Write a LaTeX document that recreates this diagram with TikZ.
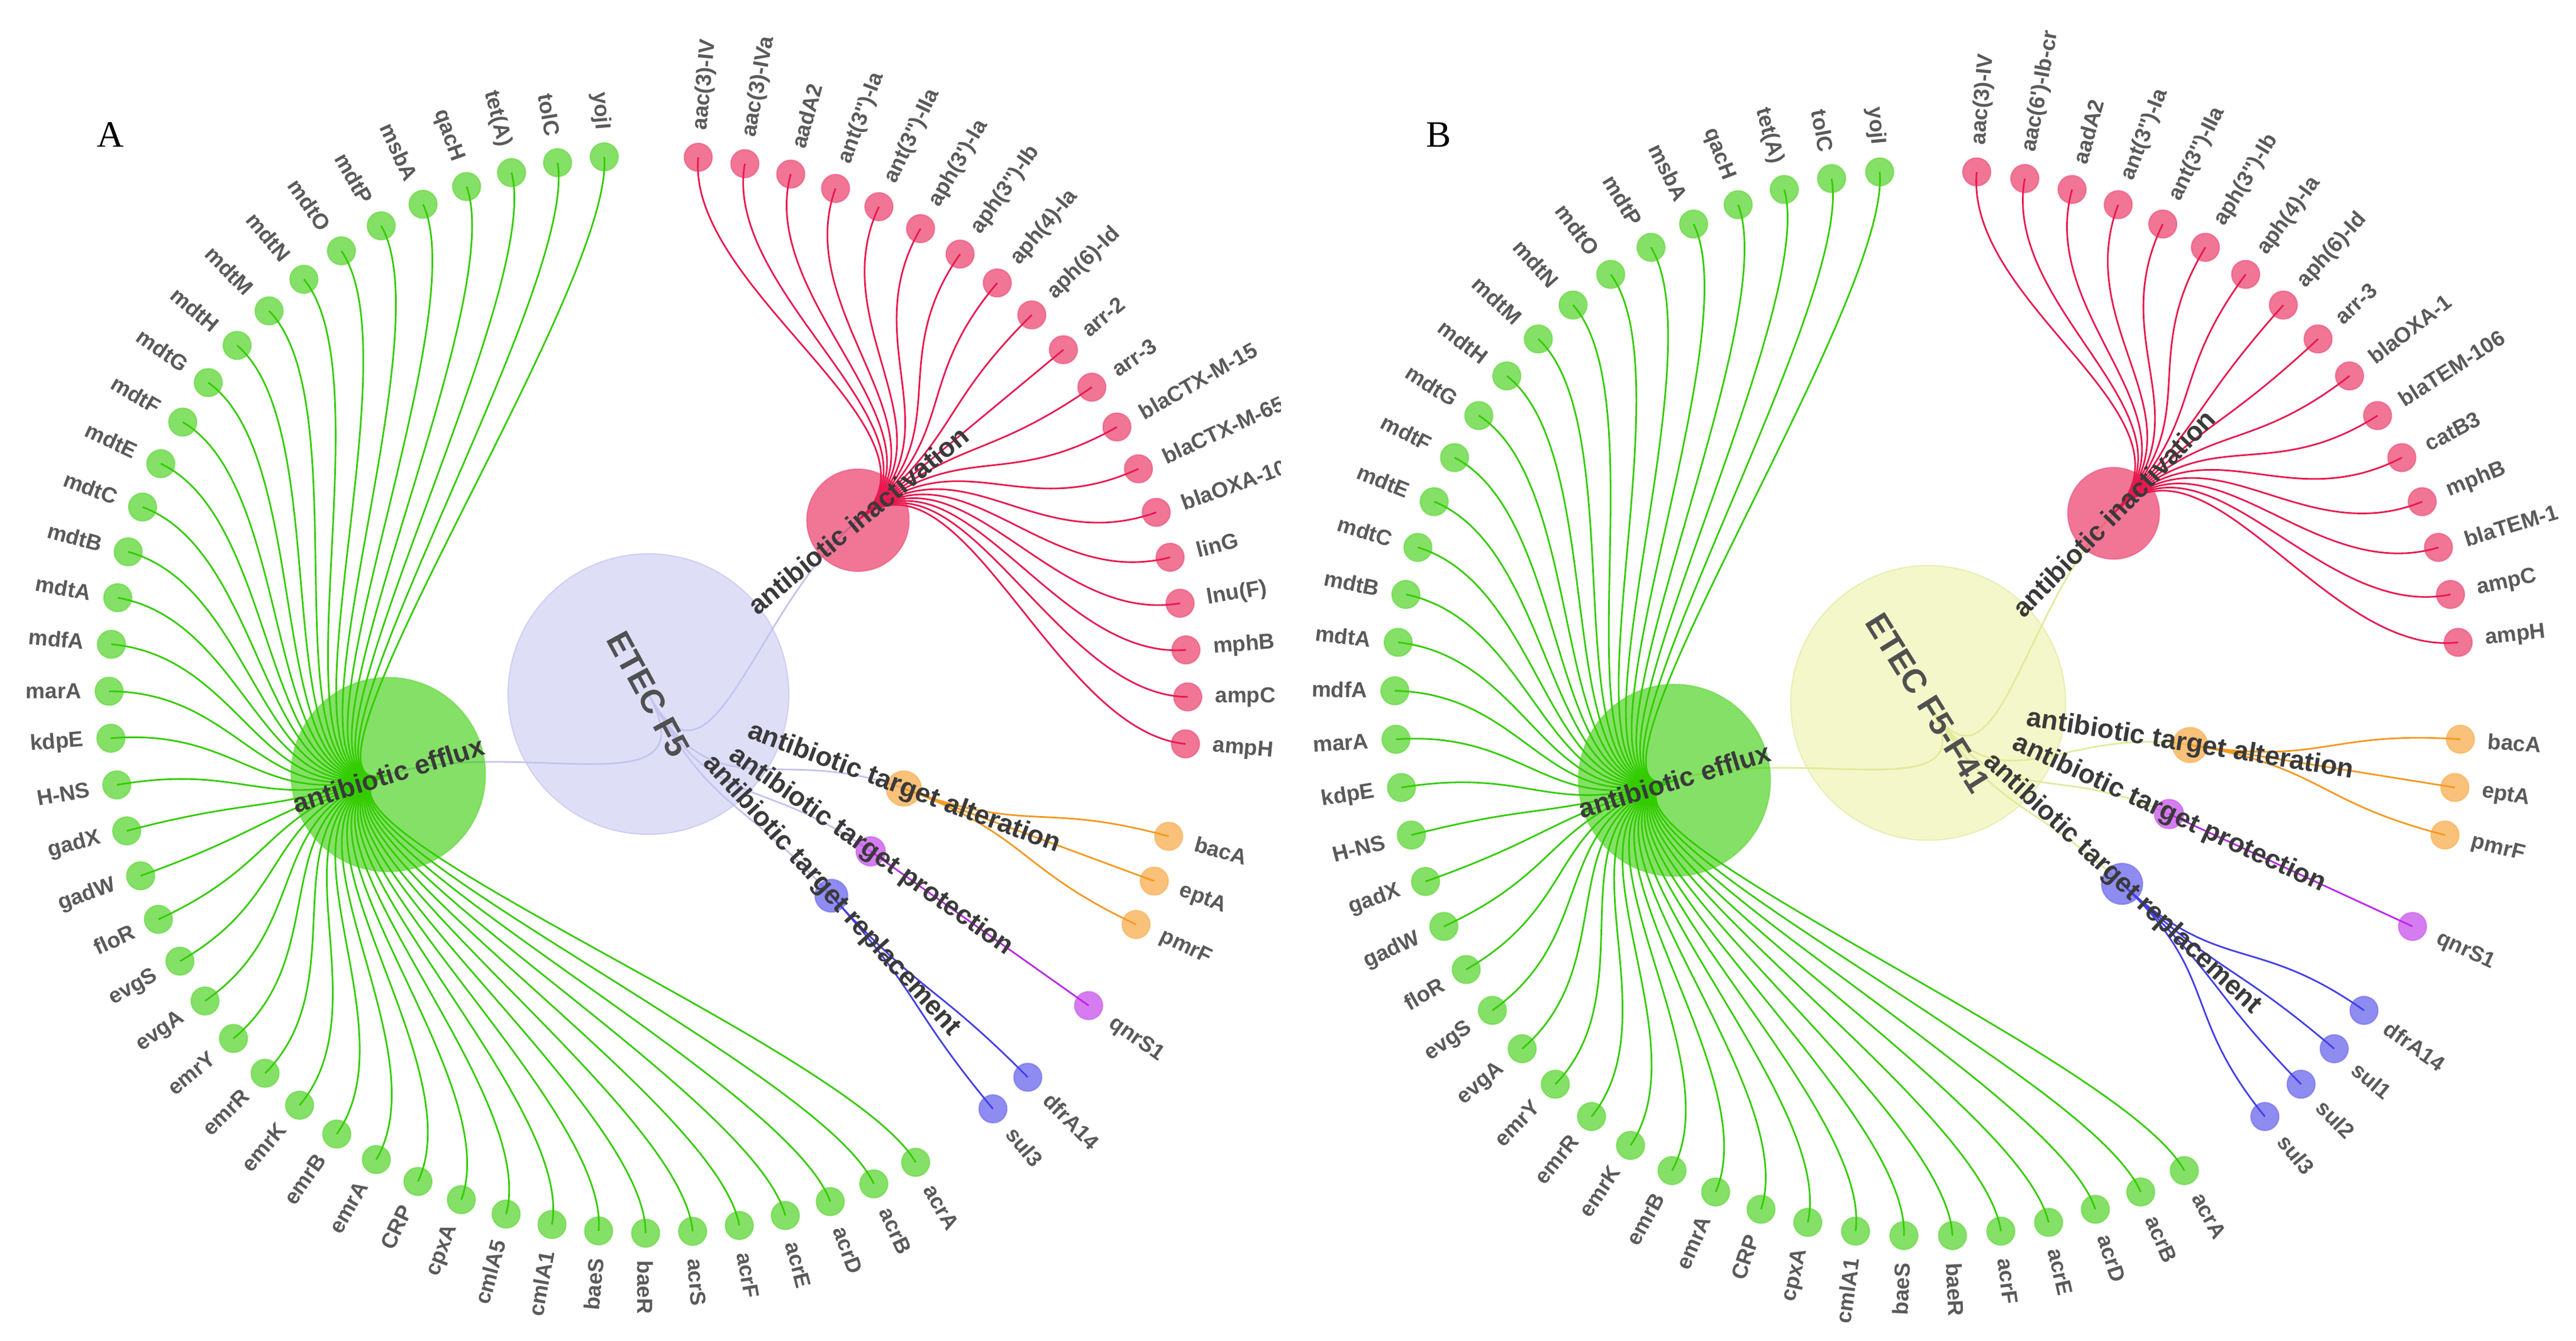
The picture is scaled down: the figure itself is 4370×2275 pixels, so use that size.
\documentclass[tikz,border=0pt]{standalone}
\usepackage{fontspec}
\setmainfont{Liberation Sans}
\newfontfamily\panelfont{Liberation Serif}
\definecolor{gcol}{HTML}{33CC00}
\definecolor{rcol}{HTML}{E8194F}
\definecolor{ocol}{HTML}{F59921}
\definecolor{pcol}{HTML}{BB26E9}
\definecolor{bcol}{HTML}{433EE9}
\definecolor{rootAfill}{HTML}{DEDEF7}
\definecolor{rootAdraw}{HTML}{CFCFF2}
\definecolor{rootAedge}{HTML}{C4C4EE}
\definecolor{rootBfill}{HTML}{F4F7C9}
\definecolor{rootBdraw}{HTML}{E9EEB4}
\definecolor{rootBedge}{HTML}{E3EA9A}
\definecolor{labcol}{HTML}{5A5A5A}
\definecolor{catcol}{HTML}{3A3A3A}
\definecolor{rootcol}{HTML}{505050}
\newcommand\sq{\textquotesingle}
\newcommand\fan[6]{%
  \foreach \nm [count=\kk from #5] in {#6}{%
    \pgfmathsetmacro\ang{\fanOff+\fanStep*\kk}%
    \coordinate (#2\kk) at (\ang:\fanR);%
    \draw[#1line] (#3) .. controls (#4:\fanM) and (\ang:\fanM) .. (#2\kk);%
  }%
  \foreach \nm [count=\kk from #5] in {#6}{%
    \pgfmathsetmacro\ang{\fanOff+\fanStep*\kk}%
    \pgfmathsetmacro\rl{\fanR+46}%
    \pgfmathtruncatemacro\flip{(\ang>90.5 && \ang<269.5) ? 1 : 0}%
    \node[#1leaf] (#2n\kk) at (#2\kk) {};%
    \ifnum\flip=1\relax
      \node[lab,anchor=east,rotate={180-(\ang)}] (#2t\kk) at (\ang:\rl) {\nm};%
    \else
      \node[lab,anchor=west,rotate={0-(\ang)}] (#2t\kk) at (\ang:\rl) {\nm};%
    \fi
  }%
}
\begin{document}
\begin{tikzpicture}[x=0.1mm,y=-0.1mm,
  gline/.style={draw=gcol,line width=0.8pt},
  rline/.style={draw=rcol,line width=0.8pt},
  oline/.style={draw=ocol,line width=0.8pt},
  pline/.style={draw=pcol,line width=0.8pt},
  bline/.style={draw=bcol,line width=0.8pt},
  leafbase/.style={circle,inner sep=0pt,minimum size=4.8mm,fill opacity=0.6,draw opacity=0.3,line width=0.6pt},
  gleaf/.style={leafbase,fill=gcol,draw=gcol},
  rleaf/.style={leafbase,fill=rcol,draw=rcol},
  oleaf/.style={leafbase,fill=ocol,draw=ocol},
  pleaf/.style={leafbase,fill=pcol,draw=pcol},
  bleaf/.style={leafbase,fill=bcol,draw=bcol},
  hub/.style={circle,inner sep=0pt,fill opacity=0.6,draw opacity=0.3,line width=0.6pt},
  lab/.style={font=\fontsize{10.5}{12}\selectfont\bfseries,text=labcol,inner sep=0pt},
  catlab/.style={font=\fontsize{13}{15}\selectfont\bfseries,text=catcol,inner sep=0pt},
  rootlab/.style={font=\fontsize{16}{18}\selectfont\bfseries,text=rootcol,inner sep=0pt},
  rootAedgest/.style={draw=rootAedge,line width=0.8pt},
  rootBedgest/.style={draw=rootBedge,line width=0.8pt},
  panellab/.style={font=\panelfont\fontsize{18}{20}\selectfont,text=black,inner sep=0pt}]
\useasboundingbox (0,0) rectangle (4370,2275);
\fill[white] (0,0) rectangle (4370,2275);

% ================= Panel A =================
\begin{scope}
\clip (0,0) rectangle (2172,2275);
\node[panellab] (labA) at (187,229) {A};
\begin{scope}[shift={(1100,1178)}]
\def\fanR{915}\def\fanM{688.5}\def\fanOff{-89.7}\def\fanStep{5}
\node[circle,inner sep=0pt,minimum size=47.6mm,fill=rootAfill,draw=rootAdraw,line width=0.6pt] (rootA) at (0,0) {};
\coordinate (Aeff) at (162.8:462);
\coordinate (Ared) at (-39.7:462);
\coordinate (Aor) at (20.3:462);
\coordinate (Apu) at (35.3:462);
\coordinate (Abl) at (47.8:462);
\foreach \c/\t in {Aeff/162.8,Ared/-39.7,Aor/20.3,Apu/35.3,Abl/47.8}
  \draw[rootAedgest] (rootA.center) .. controls (61.55:231) and (\t:231) .. (\c);
\fan{r}{Ar}{Ared}{-39.7}{1}{aac(3)-IV,aac(3)-IVa,aadA2,ant(3\sq\sq)-Ia,ant(3\sq\sq)-IIa,aph(3\sq)-Ia,aph(3\sq\sq)-Ib,aph(4)-Ia,aph(6)-Id,arr-2,arr-3,blaCTX-M-15,blaCTX-M-65,blaOXA-10,linG,lnu(F),mphB,ampC,ampH}
\fan{o}{Ao}{Aor}{20.3}{21}{bacA,eptA,pmrF}
\fan{p}{Ap}{Apu}{35.3}{25}{qnrS1}
\fan{b}{Ab}{Abl}{47.8}{27}{dfrA14,sul3}
\fan{g}{Ag}{Aeff}{162.8}{30}{acrA,acrB,acrD,acrE,acrF,acrS,baeR,baeS,cmlA1,cmlA5,cpxA,CRP,emrA,emrB,emrK,emrR,emrY,evgA,evgS,floR,gadW,gadX,H-NS,kdpE,marA,mdfA,mdtA,mdtB,mdtC,mdtE,mdtF,mdtG,mdtH,mdtM,mdtN,mdtO,mdtP,msbA,qacH,tet(A),tolC,yojI}
\node[hub,fill=gcol,draw=gcol,minimum size=33mm] (AeffH) at (Aeff) {};
\node[hub,fill=rcol,draw=rcol,minimum size=17.4mm] (AredH) at (Ared) {};
\node[hub,fill=ocol,draw=ocol,minimum size=6mm] (AorH) at (Aor) {};
\node[hub,fill=pcol,draw=pcol,minimum size=5mm] (ApuH) at (Apu) {};
\node[hub,fill=bcol,draw=bcol,minimum size=5.6mm] (AblH) at (Abl) {};
\node[rootlab,rotate=-61.55] (rootAlab) at (rootA.center) {ETEC F5};
\node[catlab,rotate=17.2] (AeffL) at (Aeff) {antibiotic efflux};
\node[catlab,rotate=39.7] (AredL) at (Ared) {antibiotic inactivation};
\node[catlab,rotate=-20.3] (AorL) at (Aor) {antibiotic target alteration};
\node[catlab,rotate=-35.3] (ApuL) at (Apu) {antibiotic target protection};
\node[catlab,rotate=-47.8] (AblL) at (Abl) {antibiotic target replacement};
\end{scope}
\end{scope}

% ================= Panel B =================
\node[panellab] (labB) at (2441,229) {B};
\begin{scope}[shift={(3271,1193)}]
\def\fanR{905}\def\fanM{677.5}\def\fanOff{-90}\def\fanStep{5.21739}
\node[circle,inner sep=0pt,minimum size=46.6mm,fill=rootBfill,draw=rootBdraw,line width=0.6pt] (rootB) at (0,0) {};
\coordinate (Beff) at (163.04:450);
\coordinate (Bred) at (-45.65:450);
\coordinate (Bor) at (9.13:450);
\coordinate (Bpu) at (24.78:450);
\coordinate (Bbl) at (43.04:450);
\foreach \c/\t in {Beff/163.04,Bred/-45.65,Bor/9.13,Bpu/24.78,Bbl/43.04}
  \draw[rootBedgest] (rootB.center) .. controls (58.7:225) and (\t:225) .. (\c);
\fan{r}{Br}{Bred}{-45.65}{1}{aac(3)-IV,aac(6\sq)-Ib-cr,aadA2,ant(3\sq\sq)-Ia,ant(3\sq\sq)-IIa,aph(3\sq\sq)-Ib,aph(4)-Ia,aph(6)-Id,arr-3,blaOXA-1,blaTEM-106,catB3,mphB,blaTEM-1,ampC,ampH}
\fan{o}{Bo}{Bor}{9.13}{18}{bacA,eptA,pmrF}
\fan{p}{Bp}{Bpu}{24.78}{22}{qnrS1}
\fan{b}{Bb}{Bbl}{43.04}{24}{dfrA14,sul1,sul2,sul3}
\fan{g}{Bg}{Beff}{163.04}{29}{acrA,acrB,acrD,acrE,acrF,baeR,baeS,cmlA1,cpxA,CRP,emrA,emrB,emrK,emrR,emrY,evgA,evgS,floR,gadW,gadX,H-NS,kdpE,marA,mdfA,mdtA,mdtB,mdtC,mdtE,mdtF,mdtG,mdtH,mdtM,mdtN,mdtO,mdtP,msbA,qacH,tet(A),tolC,yojI}
\node[hub,fill=gcol,draw=gcol,minimum size=32.6mm] (BeffH) at (Beff) {};
\node[hub,fill=rcol,draw=rcol,minimum size=15.6mm] (BredH) at (Bred) {};
\node[hub,fill=ocol,draw=ocol,minimum size=6mm] (BorH) at (Bor) {};
\node[hub,fill=pcol,draw=pcol,minimum size=5mm] (BpuH) at (Bpu) {};
\node[hub,fill=bcol,draw=bcol,minimum size=7mm] (BblH) at (Bbl) {};
\node[rootlab,rotate=-58] (rootBlab) at (rootB.center) {ETEC F5-F41};
\node[catlab,rotate=16.96] (BeffL) at (Beff) {antibiotic efflux};
\node[catlab,rotate=45.65] (BredL) at (Bred) {antibiotic inactivation};
\node[catlab,rotate=-9.13] (BorL) at (Bor) {antibiotic target alteration};
\node[catlab,rotate=-24.78] (BpuL) at (Bpu) {antibiotic target protection};
\node[catlab,rotate=-43.04] (BblL) at (Bbl) {antibiotic target replacement};
\end{scope}
\end{tikzpicture}
\end{document}
